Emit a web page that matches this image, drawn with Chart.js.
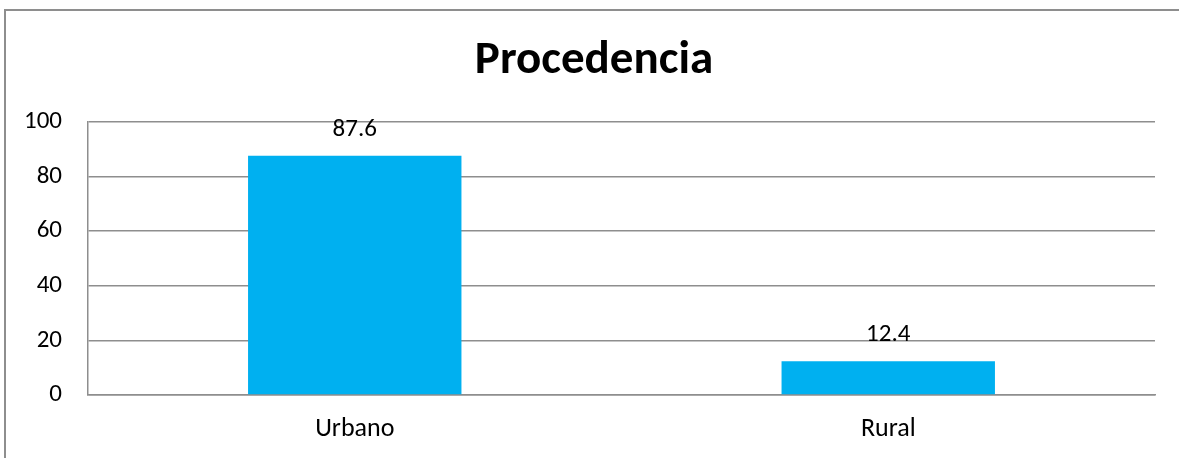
<!DOCTYPE html>
<html>
<head>
<meta charset="utf-8">
<script src="https://cdn.jsdelivr.net/npm/chart.js@4/dist/chart.umd.min.js"></script>
<style>
  html, body { margin: 0; padding: 0; background: #fff; overflow: hidden; }
  canvas { display: block; }
</style>
</head>
<body>
<canvas id="c" width="1179" height="458"></canvas>
<script>
const titleText = "Procedencia";
const categories = ["Urbano", "Rural"];
const values = [87.6, 12.4];
const yTicks = [0, 20, 40, 60, 80, 100];

const FONT = 'Carlito, Lato, "Open Sans", sans-serif';

const frame = {
  id: 'frame',
  beforeDraw(chart) {
    const ctx = chart.ctx;
    ctx.save();
    ctx.strokeStyle = '#8e8e8e';
    ctx.lineWidth = 2;
    ctx.beginPath();
    ctx.moveTo(5, chart.height);
    ctx.lineTo(5, 10);
    ctx.lineTo(chart.width, 10);
    ctx.stroke();
    ctx.restore();
  }
};

const valueLabels = {
  id: 'valueLabels',
  afterDatasetsDraw(chart) {
    const ctx = chart.ctx;
    const meta = chart.getDatasetMeta(0);
    ctx.save();
    ctx.font = '25px ' + FONT;
    ctx.fillStyle = '#000';
    ctx.textAlign = 'center';
    ctx.textBaseline = 'middle';
    meta.data.forEach((bar, i) => {
      ctx.fillText(String(values[i]), bar.x, bar.y - 26);
    });
    ctx.restore();
  }
};

new Chart(document.getElementById('c'), {
  type: 'bar',
  data: {
    labels: categories,
    datasets: [{
      data: values,
      backgroundColor: '#00B0F0',
      borderWidth: 0,
      barPercentage: 0.4,
      categoryPercentage: 1.0
    }]
  },
  options: {
    responsive: false,
    animation: false,
    layout: { padding: { left: 9, right: 0, top: 0, bottom: 0 } },
    plugins: {
      legend: { display: false },
      tooltip: { enabled: false },
      title: {
        display: true,
        text: titleText,
        color: '#000',
        font: { family: FONT, size: 47, weight: 'bold', lineHeight: 1.2 },
        padding: { top: 33, bottom: 32.6 }
      }
    },
    scales: {
      x: {
        grid: { display: false, drawTicks: false },
        border: { display: true, color: '#8e8e8e', width: 1.5 },
        ticks: { color: '#000', font: { family: FONT, size: 26 }, padding: 19 },
        afterFit(s) { s.height = 63; }
      },
      y: {
        min: 0, max: 100,
        afterBuildTicks(s) { s.ticks = yTicks.map(v => ({ value: v })); },
        grid: { color: '#8e8e8e', lineWidth: 1.5, drawTicks: false },
        border: { display: true, color: '#8e8e8e', width: 1.5 },
        ticks: { color: '#000', font: { family: FONT, size: 25 }, padding: 26 },
        afterFit(s) { s.width = 79; }
      },
      yRight: {
        position: 'right',
        min: 0, max: 100,
        grid: { display: false, drawTicks: false },
        border: { display: false },
        ticks: { display: false },
        afterFit(s) { s.width = 24; }
      }
    }
  },
  plugins: [frame, valueLabels]
});
</script>
</body>
</html>
